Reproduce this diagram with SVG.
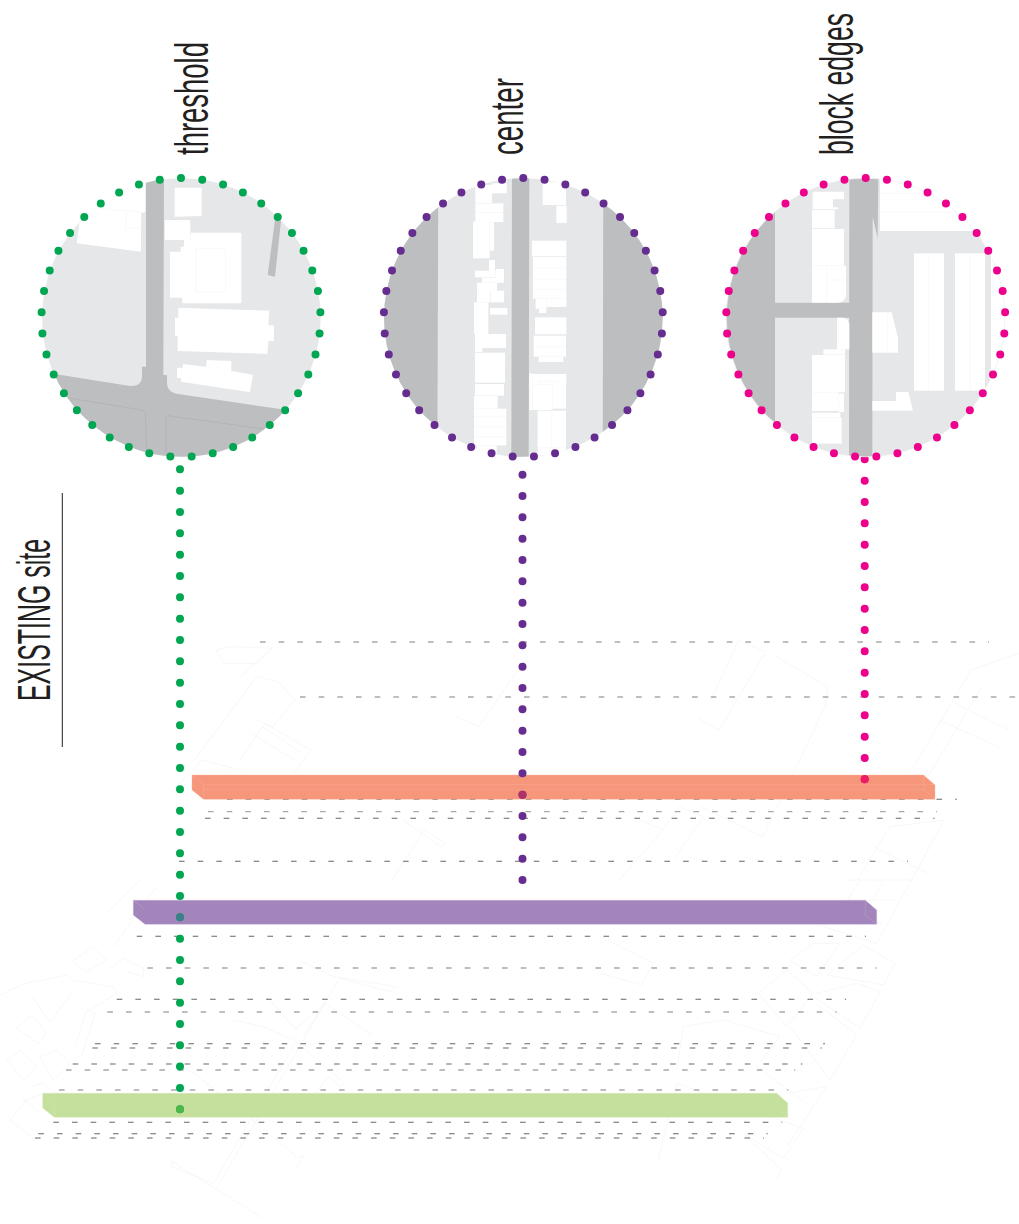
<svg xmlns="http://www.w3.org/2000/svg" width="1019" height="1224" viewBox="0 0 1019 1224">
<style>
.lbl{font-family:"Liberation Sans Narrow","Liberation Sans",sans-serif;font-size:36px;fill:#231f20}
.bg{fill:#e6e7e8}
.road{fill:#bcbec0}
.b{fill:#fff}
.il{fill:none;stroke:#f3f3f3;stroke-width:1.6}
.sw{fill:none;stroke:#a8aaad;stroke-width:1.5}
.ring{fill:none;stroke-width:8;stroke-linecap:round;stroke-dasharray:0 1}
.vd{fill:none;stroke-width:8;stroke-linecap:round;stroke-dasharray:0 21.333}
.dk,.lt{fill:none;stroke-width:1.1;stroke-dasharray:5.6 13.07}
.dk{stroke:#666}
.lt{stroke:#a9a9a9;stroke-width:1.3}
.faint path{fill:none;stroke:#f4f4f5;stroke-width:.7;vector-effect:non-scaling-stroke}
.edge{fill:none;stroke-width:.7;stroke-opacity:.5}
</style>
<defs>
<clipPath id="c1"><circle cx="484" cy="472.5" r="418"/></clipPath>
<clipPath id="c2"><circle cx="460" cy="472.5" r="418"/></clipPath>
<clipPath id="c3"><circle cx="467" cy="472.5" r="418"/></clipPath>
</defs>

<g id="site-linework" class="faint">
<g transform="translate(0,880) scale(.33333)">
<path d="M0,345L70,312L200,285L215,300L340,320L350,340L260,395M95,350L150,425L215,340"/>
<path d="M50,445L95,405L140,460L115,490Z"/>
<path d="M20,540L60,510L110,560L70,600Z"/>
<path d="M120,530L170,510L210,550L160,600Z"/>
<path d="M225,500L260,390L285,400L245,530"/>
<path d="M215,245L280,200L320,240L260,275Z"/>
<path d="M330,265L370,235L430,265L430,290L380,275"/>
<path d="M320,100L420,0M340,200L440,60M390,120L470,20"/>
<path d="M905,245L1000,290L1190,320L1170,335L1020,295L910,470"/>
<path d="M800,350L880,440L890,445L975,370L1115,465L1105,470"/>
<path d="M700,420L790,440L880,480L1035,610L1020,620L985,590L915,680"/>
<path d="M570,570L765,725L895,835L910,825L890,868"/>
<path d="M515,845L790,1015M515,845L515,860L640,910L885,490M655,915L975,370"/>
<path d="M30,720L80,660L130,640M30,720L100,775"/>
<path d="M90,620L130,610L170,640M65,650L120,700"/>
</g>
<g transform="translate(600,880) scale(.33333)">
<path d="M175,840L230,610L610,745L550,835L430,760L545,870L530,900"/>
<path d="M230,570L250,440L370,420L540,470L470,560L620,670"/>
<path d="M475,340L560,270L640,340L560,440Z"/>
<path d="M570,240L640,190L720,190L650,290Z"/>
<path d="M680,285L790,195L885,250L850,315Z"/>
<path d="M650,340L770,310L840,335L780,445L640,350"/>
<path d="M570,440L690,600L770,465L650,370"/>
<path d="M735,0H935L830,190L640,130M780,0L700,130M850,0L770,150M740,60L890,60M700,110L850,130"/>
<path d="M560,640L680,620L560,800"/>
<path d="M0,170L160,250L125,315L0,280"/>
</g>
<g transform="translate(170,620) scale(.5414,.33333)">
<path d="M85,90L110,80L190,85L160,130L100,130Z M130,170L190,80"/>
<path d="M45,420L160,170L200,185L230,240L190,320L160,300"/>
<path d="M130,420L175,310L260,390L225,470M150,340L230,420M170,320L245,400"/>
<path d="M530,290L570,320L660,110L630,50"/>
<path d="M1000,240L1050,60L1100,95L1015,330L975,295"/>
<path d="M1120,110L1215,200L1210,260L1095,650L980,560"/>
<path d="M1370,450L1480,150L1568,100M1400,470L1500,200M1420,300L1530,380M1450,250L1550,330"/>
<path d="M870,600L910,630L830,780M910,630L940,560L985,590L930,720"/>
<path d="M470,630L510,670L500,680L430,600M410,780L470,630"/>
<path d="M1270,780L1330,620L1430,600L1370,780M1300,680L1400,760"/>
<path d="M0,520L60,420L130,450"/>
</g>
</g>

<g id="level-lines">
<path class="lt" d="M260,642H989"/>
<path class="lt" d="M300,697H1016"/>
<path class="dk" d="M227,799.3H956.7"/>
<path class="lt" d="M208,811.7H937"/>
<path class="dk" d="M205,818.3H934.5"/>
<path class="dk" d="M179,861.3H908"/>
<path class="dk" d="M136.7,936.3H866"/>
<path class="lt" d="M147.3,968H876.7"/>
<path class="dk" d="M116.7,999.3H846"/>
<path class="lt" d="M107.3,1012H836.7"/>
<path class="dk" d="M95,1043.7H825"/>
<path class="dk" d="M92.3,1048H821.7"/>
<path class="dk" d="M72.7,1064H802.3"/>
<path class="lt" d="M66,1070H795.3"/>
<path class="lt" d="M59,1090H788.3"/>
<path class="dk" d="M53.3,1122.3H782.3"/>
<path class="dk" d="M38.3,1133.7H767.7"/>
<path class="dk" d="M35,1138H764"/>
</g>

<g id="bar-orange">
<path fill="#f6967a" d="M192,775H923.5L935,785V799.3H203.5L192,790Z"/>
<path class="edge" stroke="#fbb5a0" d="M192,775H923.5L935,785V799.3H203.5L192,790Z M203.5,784.5H935 M203.5,789.3H924 M203.5,784.5V799.3 M192,775L203.5,784.5 M924,775V789.3L935,799.3"/>
</g>
<g id="bar-purple">
<path fill="#a385bc" d="M133.3,900.3H865.3L876.7,910V924.3H145L133.3,915Z"/>
<path class="edge" stroke="#c4afd6" d="M133.3,900.3H865.3L876.7,910V924.3H145L133.3,915Z M133.3,900.3L145,910 M865.3,900.3V915L876.7,924.3"/>
</g>
<g id="bar-green">
<path fill="#c5df9d" d="M42.7,1093.3H776.7L787.7,1103V1117.3H54.3L42.7,1108Z"/>
<path class="edge" stroke="#d9ecbc" d="M42.7,1093.3H776.7L787.7,1103V1117.3H54.3L42.7,1108Z M42.7,1093.3L54.3,1103V1117.3 M776.7,1108L787.7,1117.3"/>
</g>

<g id="connectors">
<path class="vd" stroke="#00a651" d="M180,469.3V1109.8"/>
<path class="vd" stroke="#662d91" d="M522.5,474.7V880.5"/>
<path class="vd" stroke="#ec008c" d="M864.7,459.3V779.8"/>
<circle cx="180" cy="917.3" r="4" fill="#3d7f8b"/>
<circle cx="180" cy="1109.3" r="4" fill="#4db848"/>
<circle cx="522.5" cy="794.7" r="4" fill="#b03068"/>
<circle cx="864.7" cy="779.3" r="4" fill="#ee1c64"/>
</g>

<g id="node-threshold">
<g transform="translate(20,160) scale(.33333)">
<g clip-path="url(#c1)">
<rect class="bg" x="50" y="40" width="860" height="860"/>
<path class="road" d="M378,50H432L430,645H441V672Q443,698 475,702L800,750V920H90V640L330,678Q365,680 366,650V620H378Z"/>
<path class="sw" d="M140,713L365,750Q375,752 376,762L380,880M438,880V775Q440,765 450,768L740,808"/>
<path class="b" d="M170,250L178,190L240,120L376,50V157L363,160V275Z"/>
<path class="il" d="M235,145L376,157M320,155L316,205H364V160"/>
<path class="b" d="M464,83H545V168L464,170Z"/>
<path class="b" d="M434,180H510L512,240H434Z"/>
<path class="b" d="M512,218H664V430H487V413H450V275H482V260H492V240H512Z"/>
<path class="il" d="M527,265H617V395H527Z"/>
<path class="b" d="M475,443L748,452L745,495L762,497V543H745L742,582L473,573V528H465V473H475Z"/>
<path class="b" d="M471,623H488L490,612L558,620L560,600L634,603V633L699,644L690,697L483,665V655L471,653Z"/>
<path class="road" d="M765,180L783,183L765,350L743,345Z"/>
</g>
</g>
<circle class="ring" cx="181" cy="317.5" r="139.5" pathLength="41" stroke="#00a651" transform="rotate(-90 181 317.5)"/>
<text class="lbl" transform="translate(208,155) rotate(-90) scale(1,1.3)" textLength="113" lengthAdjust="spacingAndGlyphs">threshold</text>
</g>

<g id="node-center">
<g transform="translate(370,160) scale(.33333)">
<g clip-path="url(#c2)">
<rect class="bg" x="30" y="40" width="860" height="860"/>
<path class="road" d="M30,40H205L202,900H30Z"/>
<path class="road" d="M700,40H890V900H698Z"/>
<path class="road" d="M426,40H478L476,900H424Z"/>
<g class="b">
<rect x="365" y="70" width="45" height="30"/><rect x="316" y="75" width="50" height="55"/><rect x="316" y="130" width="84" height="28"/><rect x="316" y="158" width="84" height="28"/><rect x="309" y="185" width="50" height="110"/><rect x="359" y="187" width="13" height="85"/><rect x="357" y="300" width="18" height="38"/><rect x="315" y="332" width="62" height="20"/><rect x="378" y="327" width="24" height="40"/><rect x="336" y="353" width="66" height="15"/><rect x="321" y="368" width="60" height="25"/><rect x="321" y="392" width="40" height="35"/><rect x="362" y="392" width="40" height="35"/><rect x="312" y="427" width="43" height="95"/><rect x="360" y="444" width="52" height="20"/><rect x="315" y="522" width="93" height="42"/><rect x="315" y="564" width="22" height="12"/><rect x="315" y="578" width="90" height="90"/><rect x="315" y="672" width="87" height="35"/><rect x="312" y="708" width="71" height="38"/><rect x="312" y="746" width="97" height="110"/><rect x="320" y="856" width="60" height="25"/>
<rect x="518" y="65" width="70" height="70"/><rect x="559" y="137" width="31" height="52"/><rect x="486" y="242" width="103" height="47"/><rect x="489" y="291" width="100" height="125"/><rect x="530" y="416" width="59" height="25"/><rect x="497" y="416" width="33" height="30"/><rect x="507" y="446" width="22" height="13"/><rect x="495" y="472" width="94" height="51"/><rect x="491" y="527" width="97" height="63"/><rect x="506" y="590" width="74" height="16"/><rect x="488" y="642" width="101" height="32"/><rect x="488" y="674" width="60" height="76"/><rect x="548" y="672" width="40" height="74"/><rect x="503" y="752" width="85" height="110"/><rect x="503" y="862" width="85" height="25"/><rect x="478" y="640" width="10" height="110"/>
</g>
<path class="il" d="M316,130H400M312,770H409M312,800H409M312,830H409M490,325H589M490,358H589M490,388H589M491,560H588M509,672V664H566V672M545,752V862"/>
</g>
</g>
<circle class="ring" cx="523.3" cy="317.5" r="139.5" pathLength="41" stroke="#662d91" transform="rotate(-90 523.3 317.5)"/>
<text class="lbl" transform="translate(522.7,155) rotate(-90) scale(1,1.3)" textLength="77" lengthAdjust="spacingAndGlyphs">center</text>
</g>

<g id="node-block-edges">
<g transform="translate(710,160) scale(.33333)">
<g clip-path="url(#c3)">
<rect class="bg" x="40" y="40" width="860" height="860"/>
<path class="road" d="M40,40H195V900H40Z"/>
<path class="b" d="M510,40H900V213H510Z"/>
<path class="b" d="M843,213H900V650H843Z"/>
<path class="road" d="M195,428H420V473H195Z"/>
<path class="road" d="M418,40H505L503,235L488,170L487,900H417Z"/>
<g class="b">
<path d="M308,95H402V118H369V142H384V148H308Z"/>
<rect x="306" y="150" width="68" height="55"/><rect x="306" y="207" width="96" height="110"/><rect x="306" y="317" width="43" height="111"/>
<path d="M349,317H408V405Q406,428 380,428H349Z"/>
<path d="M381,473H400Q418,478 418,495V568H381Z"/>
<rect x="340" y="568" width="65" height="16"/><rect x="306" y="585" width="99" height="112"/><rect x="306" y="697" width="80" height="56"/><rect x="386" y="701" width="16" height="55"/><rect x="306" y="758" width="85" height="15"/><rect x="306" y="773" width="89" height="78"/>
<path d="M487,457H545L564,535V578H487Z"/>
<rect x="612" y="280" width="90" height="412"/><rect x="735" y="280" width="90" height="412"/>
<path d="M487,723H558V696H595L609,752H487Z"/>
</g>
<path class="il" d="M655,280V692M781,280V692M533,457V578M510,100H790M510,157H760M349,360H408"/>
</g>
<circle cx="467" cy="472.5" r="418" fill="none" stroke="#f0f0f1" stroke-width="2"/>
</g>
<circle class="ring" cx="865.7" cy="317.5" r="139.5" pathLength="41" stroke="#ec008c" transform="rotate(-90 865.7 317.5)"/>
<text class="lbl" transform="translate(853,155) rotate(-90) scale(1,1.5)" textLength="142" lengthAdjust="spacingAndGlyphs" style="font-size:31px">block edges</text>
</g>

<g id="title">
<text class="lbl" transform="translate(50,701) rotate(-90) scale(1,1.3)" textLength="162" lengthAdjust="spacingAndGlyphs">EXISTING site</text>
<path d="M62.3,493V747" stroke="#231f20" stroke-width="1" fill="none"/>
</g>
</svg>
